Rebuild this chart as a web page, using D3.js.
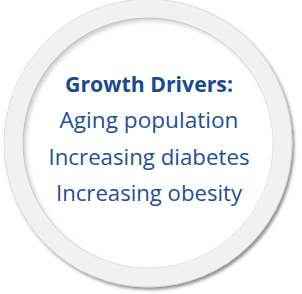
<!DOCTYPE html>
<html>
<head>
<meta charset="utf-8">
<script src="https://cdn.jsdelivr.net/npm/d3@7"></script>
<style>
  body { margin: 0; background: #fff; }
  svg { display: block; }
</style>
</head>
<body>
<div id="chart"></div>
<script>
// text content of the badge
const title = "Growth Drivers:";
const drivers = ["Aging population", "Increasing diabetes", "Increasing obesity"];
const lineWidths = [168, 179, 201, 186]; // measured widths of each line in px

const width = 302, height = 294;
const cx = 148, cy = 143;

const svg = d3.select("#chart")
  .append("svg")
    .attr("width", width)
    .attr("height", height);

const defs = svg.append("defs");

// drop shadow under the ring (bottom right)
const outerShadow = defs.append("filter")
  .attr("id", "outerShadow")
  .attr("x", "-10%").attr("y", "-10%")
  .attr("width", "120%").attr("height", "120%");
outerShadow.append("feDropShadow")
  .attr("dx", 2).attr("dy", 2.5)
  .attr("stdDeviation", 1.8)
  .attr("flood-color", "#000")
  .attr("flood-opacity", 0.45);

// inner shadow on the white disc (top left)
const innerShadow = defs.append("filter")
  .attr("id", "innerShadow")
  .attr("x", "-10%").attr("y", "-10%")
  .attr("width", "120%").attr("height", "120%");
innerShadow.append("feOffset").attr("dx", 2.5).attr("dy", 2.5).attr("in", "SourceAlpha").attr("result", "off");
innerShadow.append("feGaussianBlur").attr("in", "off").attr("stdDeviation", 2).attr("result", "blur");
innerShadow.append("feComposite").attr("in", "SourceAlpha").attr("in2", "blur").attr("operator", "out").attr("result", "inv");
innerShadow.append("feFlood").attr("flood-color", "#000").attr("flood-opacity", 0.4);
innerShadow.append("feComposite").attr("in2", "inv").attr("operator", "in").attr("result", "shadow");
const merge = innerShadow.append("feMerge");
merge.append("feMergeNode").attr("in", "SourceGraphic");
merge.append("feMergeNode").attr("in", "shadow");

// ring
svg.append("circle")
  .attr("cx", cx).attr("cy", cy)
  .attr("r", 144)
  .attr("fill", "#f1f1f1")
  .attr("stroke", "#d2d2d2")
  .attr("stroke-width", 0.6)
  .attr("filter", "url(#outerShadow)");

svg.append("circle")
  .attr("cx", cx).attr("cy", cy)
  .attr("r", 125)
  .attr("fill", "#fff")
  .attr("stroke", "#dcdcdc")
  .attr("stroke-width", 0.6)
  .attr("filter", "url(#innerShadow)");

// text lines
const lines = [title].concat(drivers);
const y = d3.scalePoint()
  .domain(lines)
  .range([92, 201]);

svg.append("g")
  .selectAll("text")
  .data(lines)
  .join("text")
    .attr("x", 149)
    .attr("y", d => y(d))
    .attr("text-anchor", "middle")
    .attr("font-family", "'Open Sans', sans-serif")
    .attr("font-size", 21)
    .attr("font-weight", (d, i) => i === 0 ? 700 : 400)
    .attr("fill", (d, i) => i === 0 ? "#1b4a91" : "#1f4f98")
    .attr("textLength", (d, i) => lineWidths[i])
    .attr("lengthAdjust", "spacingAndGlyphs")
    .text(d => d);
</script>
</body>
</html>
